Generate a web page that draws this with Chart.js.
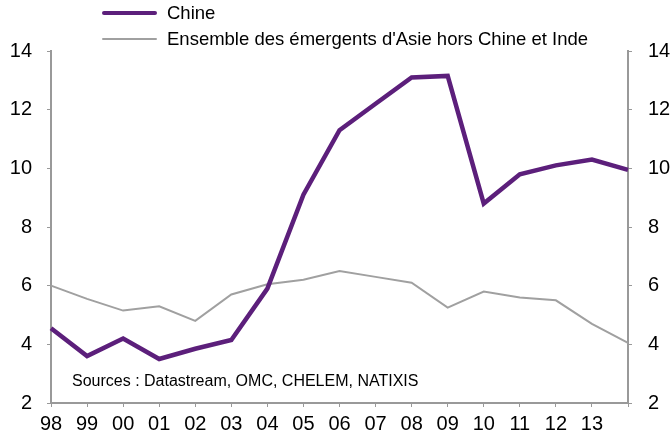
<!DOCTYPE html>
<html>
<head>
<meta charset="utf-8">
<script src="https://cdn.jsdelivr.net/npm/chart.js@4"></script>
<style>
  html, body { margin: 0; padding: 0; background: #fff; }
  #wrap { position: relative; width: 672px; height: 437px; font-family: "Liberation Sans", Arial, sans-serif; }
  .leg { position: absolute; left: 102px; font-size: 18.5px; line-height: 22px; color: #000; display: flex; align-items: center; }
  .leg span.ln { display: inline-block; width: 55px; margin-right: 10px; border-radius: 3px; }
  #src { position: absolute; left: 72px; top: 372px; font-size: 16px; color: #000; }
</style>
</head>
<body>
<div id="wrap">
  <canvas id="graf" width="672" height="437"></canvas>
  <div class="leg" style="top:2px"><span class="ln" style="height:4.5px;background:#5c1f7b"></span>Chine</div>
  <div class="leg" style="top:28px"><span class="ln" style="height:2px;background:#a0a0a0"></span>Ensemble des émergents d'Asie hors Chine et Inde</div>
  <div id="src">Sources : Datastream, OMC, CHELEM, NATIXIS</div>
</div>
<script>
const annees = ["98", "99", "00", "01", "02", "03", "04", "05", "06", "07", "08", "09", "10", "11", "12", "13", ""];
const chine = [4.55, 3.6, 4.2, 3.5, 3.85, 4.15, 5.9, 9.1, 11.3, 12.2, 13.1, 13.15, 8.8, 9.8, 10.1, 10.3, 9.95];
const asieHorsChineInde = [6.0, 5.55, 5.15, 5.3, 4.8, 5.7, 6.05, 6.2, 6.5, 6.3, 6.1, 5.25, 5.8, 5.6, 5.5, 4.7, 4.05];

const cinza = "#999999";
const fonte = { family: "'Liberation Sans', Arial, sans-serif", size: 20 };

const ctx = document.getElementById("graf").getContext("2d");
new Chart(ctx, {
  type: "line",
  data: {
    labels: annees,
    datasets: [
      { label: "Chine", data: chine, borderColor: "#5c1f7b", borderWidth: 4.5, pointRadius: 0, tension: 0, yAxisID: "y" },
      { label: "Ensemble des émergents d'Asie hors Chine et Inde", data: asieHorsChineInde, borderColor: "#a0a0a0", borderWidth: 2, pointRadius: 0, tension: 0, yAxisID: "y" },
    ],
  },
  options: {
    responsive: false,
    animation: false,
    layout: { padding: { top: 51, left: 0, right: 0, bottom: 0 } },
    plugins: { legend: { display: false }, tooltip: { enabled: false } },
    scales: {
      x: {
        offset: false,
        grid: { display: true, drawOnChartArea: false, color: cinza, tickLength: 4 },
        border: { color: cinza, width: 2 },
        ticks: { color: "#000", font: fonte, maxRotation: 0, autoSkip: false, padding: 5 },
        afterFit: (s) => { s.height = 34; },
      },
      y: {
        position: "left",
        min: 2, max: 14,
        grid: { display: true, drawOnChartArea: false, color: cinza, tickLength: 4 },
        border: { color: cinza, width: 2 },
        ticks: { stepSize: 2, color: "#000", font: fonte, padding: 15 },
        afterFit: (s) => { s.width = 51; },
      },
      y2: {
        position: "right",
        min: 2, max: 14,
        grid: { display: true, drawOnChartArea: false, color: cinza, tickLength: 4 },
        border: { color: cinza, width: 2 },
        ticks: { stepSize: 2, color: "#000", font: fonte, padding: 16 },
        afterFit: (s) => { s.width = 44; },
      },
    },
  },
});
</script>
</body>
</html>
